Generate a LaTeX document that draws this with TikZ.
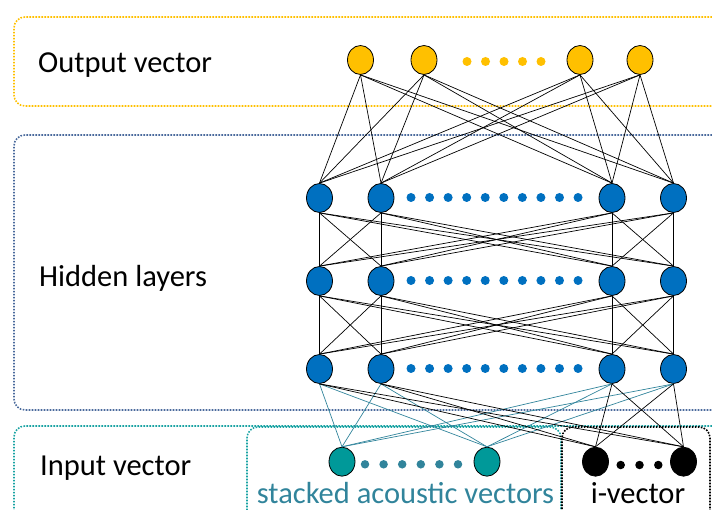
\documentclass[tikz,border=0pt]{standalone}
\usepackage{fontspec}
\setmainfont{Carlito}
\usetikzlibrary{shapes.geometric}
\definecolor{cgold}{HTML}{FFC000}
\definecolor{cblue}{HTML}{0070C0}
\definecolor{cteal}{HTML}{009999}
\definecolor{ctealtx}{HTML}{31849B}
\definecolor{chidbox}{HTML}{4A6A9C}
\definecolor{cinbox}{HTML}{1AA3A3}
\tikzset{
  neuron/.style={ellipse,draw=black,line width=0.8pt,minimum width=26pt,minimum height=29pt,inner sep=0pt},
  outn/.style={neuron,fill=cgold},
  hidn/.style={neuron,fill=cblue},
  tealn/.style={neuron,fill=cteal},
  blackn/.style={neuron,fill=black},
  dotb/.style={circle,inner sep=0pt,minimum size=9pt},
  frame/.style={rounded corners=11pt,line width=1.6pt,dash pattern=on 1.6pt off 1.4pt},
  conn/.style={black,line width=0.7pt},
  tconn/.style={ctealtx,line width=0.7pt},
  lbl/.style={font=\fontsize{30.5}{36}\selectfont,anchor=base west,inner sep=0pt}
}
\begin{document}
\begin{tikzpicture}[x=1pt,y=-1pt]
\useasboundingbox (0,0) rectangle (712,510);
\clip (0,0) rectangle (712,510);
% frames
\draw[frame,cgold] (760,17) -- (14,17) -- (14,106) -- (760,106);
\draw[frame,chidbox] (760,135) -- (14,135) -- (14,410) -- (760,410);
\draw[frame,cinbox] (760,426) -- (14,426) -- (14,560);
\draw[frame,cinbox] (561,560) -- (561,427) -- (247,427) -- (247,560);
\draw[frame,black] (562,560) -- (562,427) -- (710,427) -- (710,560);
% labels
\node[lbl] (tout) at (38,72.7) {Output vector};
\node[lbl] (thid) at (39,286.7) {Hidden layers};
\node[lbl] (tin) at (40,475) {Input vector};
\node[lbl,anchor=base,text=ctealtx] (tstk) at (405.5,503) {stacked acoustic vectors};
\node[lbl,anchor=base] (tiv) at (638,503) {i-vector};
% output nodes
\node[outn] (o1) at (360.5,60) {};
\node[outn] (o2) at (424,60) {};
\node[outn] (o3) at (580,60) {};
\node[outn] (o4) at (640,60) {};
\foreach \i in {0,...,4} \node[dotb,fill=cgold] (od\i) at (467+18.5*\i,61.5) {};
% hidden nodes
\foreach \l/\y in {1/198,2/281,3/369}{
  \node[hidn] (h\l a) at (319.5,\y) {};
  \node[hidn] (h\l b) at (381,\y) {};
  \node[hidn] (h\l c) at (612,\y) {};
  \node[hidn] (h\l d) at (673.5,\y) {};
  \foreach \i in {0,...,9} \node[dotb,fill=cblue] (hd\l\i) at (411+18.56*\i,\y-0.5) {};
}
% input nodes
\node[tealn] (i1) at (342,461.7) {};
\node[tealn] (i2) at (487,461.7) {};
\foreach \i in {0,...,5} \node[dotb,fill=ctealtx,minimum size=8.5pt] (td\i) at (365+18.6*\i,464.3) {};
\node[blackn] (v1) at (595.5,461.7) {};
\node[blackn] (v2) at (683.5,461.7) {};
\foreach \i in {0,...,2} \node[dotb,fill=black,minimum size=8.5pt] (bd\i) at (620.7+18.8*\i,465) {};
% connections
\foreach \o in {o1,o2,o3,o4}
  \foreach \h in {h1a,h1b,h1c,h1d}
    \draw[conn] (\o.south) -- (\h.north);
\foreach \u/\d in {1/2,2/3}
  \foreach \p in {a,b,c,d}
    \foreach \q in {a,b,c,d}
      \draw[conn] (h\u\p.south) -- (h\d\q.north);
\foreach \t in {i1,i2}
  \foreach \h in {h3a,h3b,h3c,h3d}
    \draw[tconn] (\t.north) -- (\h.south);
\foreach \t in {v1,v2}
  \foreach \h in {h3a,h3b,h3c,h3d}
    \draw[conn] (\t.north) -- (\h.south);
\end{tikzpicture}
\end{document}
